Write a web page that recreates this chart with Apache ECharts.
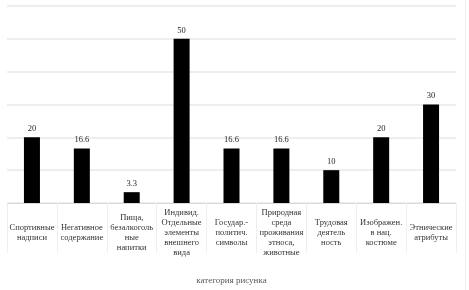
<!DOCTYPE html>
<html><head><meta charset="utf-8">
<script src="https://cdn.jsdelivr.net/npm/echarts@6/dist/echarts.min.js"></script>
<style>html,body{margin:0;padding:0;background:#fff}#c{width:469px;height:290px}</style>
</head><body><div id="c"></div>
<script>
const categories = [
  "Спортивные\nнадписи",
  "Негативное\nсодержание",
  "Пища,\nбезалкоголь\nные\nнапитки",
  "Индивид.\nОтдельные\nэлементы\nвнешнего\nвида",
  "Государ.-\nполитич.\nсимволы",
  "Природная\nсреда\nпроживания\nэтноса,\nживотные",
  "Трудовая\nдеятель\nность",
  "Изображен.\nв нац.\nкостюме",
  "Этнические\nатрибуты"
];
const values = [20, 16.6, 3.3, 50, 16.6, 16.6, 10, 20, 30];
const axisTitle = "категория рисунка";

const chart = echarts.init(document.getElementById('c'), null, {renderer:'canvas'});
chart.setOption({
  animation: false,
  grid: {left: 7, right: 13, top: 6, bottom: 84, containLabel: false},
  graphic: [{type:'line', shape:{x1:465.5,y1:0,x2:465.5,y2:290}, style:{stroke:'#eeeeee', lineWidth:1}}],
  xAxis: {
    type: 'category',
    data: categories,
    name: axisTitle,
    nameLocation: 'middle',
    nameGap: 73,
    nameTextStyle: {fontFamily:'Liberation Serif', fontSize: 9, color:'#595959'},
    axisLine: {lineStyle:{color:'#d9d9d9', width:1}},
    axisTick: {show:true, length:50, lineStyle:{color:'#eeeeee'}},
    axisLabel: {interval:0, fontFamily:'Liberation Serif', fontSize:8.5, color:'#333333',
      lineHeight:10, verticalAlign:'middle', margin:30}
  },
  yAxis: {
    type: 'value', min: 0, max: 60, interval: 10,
    axisLabel: {show:false},
    axisLine: {show:false}, axisTick:{show:false},
    splitLine: {lineStyle:{color:'#e8e8e8', width:1.5}}
  },
  series: [{
    type: 'bar', data: values, barWidth: 16,
    itemStyle: {color:'#000000'},
    label: {show:true, position:'top', distance:4, fontFamily:'Liberation Serif', fontSize:8.5, color:'#262626'}
  }]
});
</script></body></html>
